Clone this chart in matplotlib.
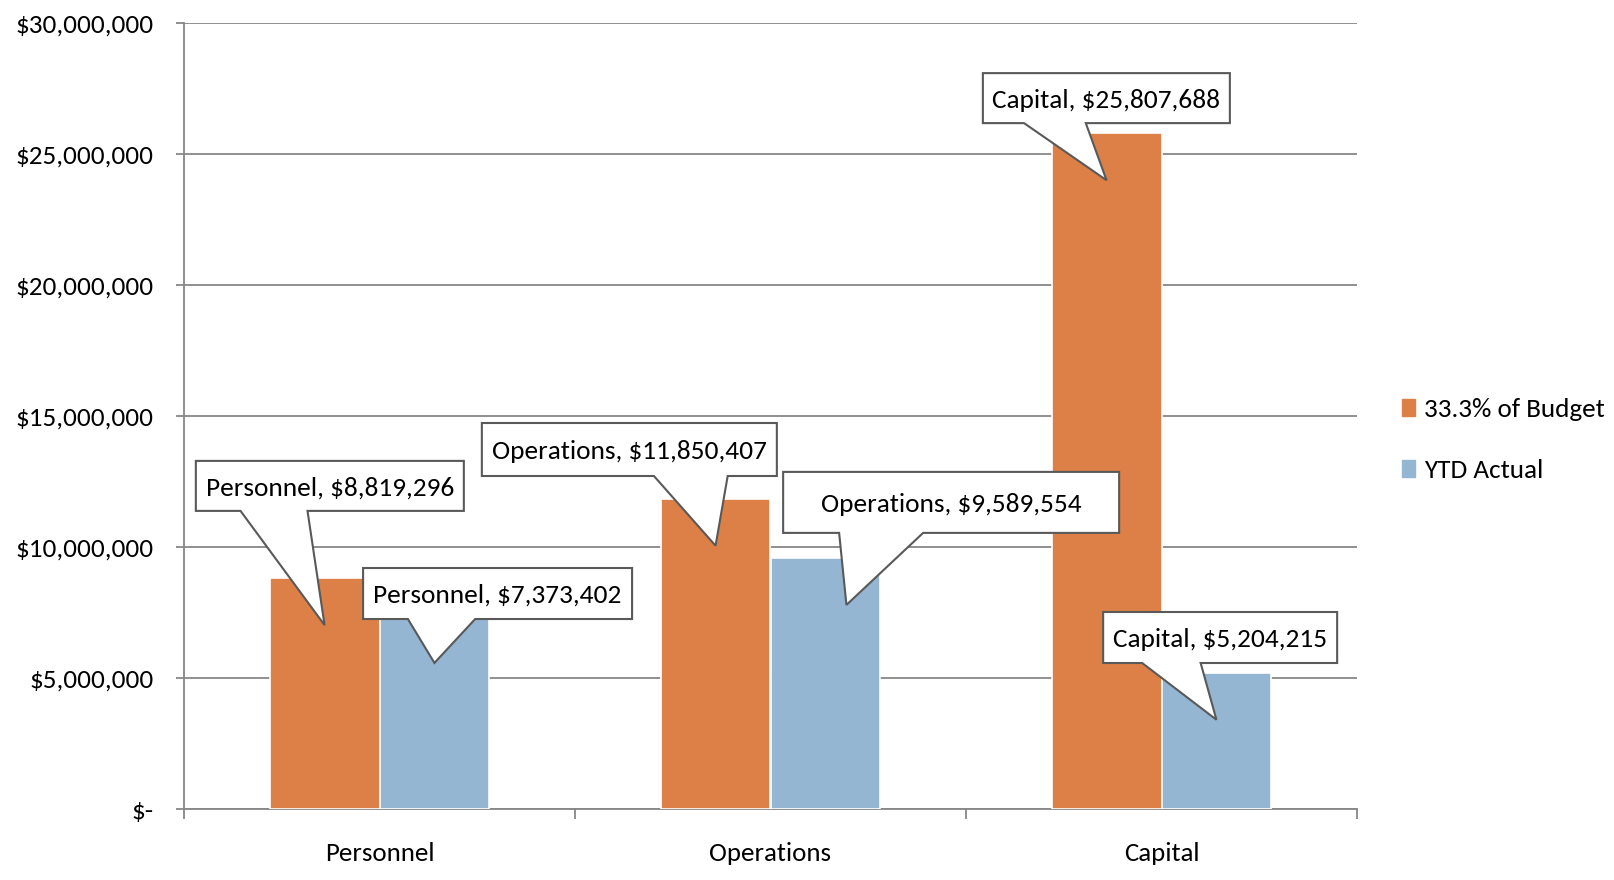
import matplotlib
matplotlib.use("Agg")
import matplotlib.pyplot as plt
import numpy as np
from matplotlib.patches import Polygon, Patch
from matplotlib.transforms import IdentityTransform

plt.rcParams['font.family'] = ['Carlito', 'Liberation Sans Narrow', 'Roboto Condensed', 'DejaVu Sans']

# ---- data ----
categories = ["Personnel", "Operations", "Capital"]
budget = [8819296, 11850407, 25807688]      # 33.3% of Budget
ytd_actual = [7373402, 9589554, 5204215]    # YTD Actual
series_names = ["33.3% of Budget", "YTD Actual"]
y_ticks = [0, 5000000, 10000000, 15000000, 20000000, 25000000, 30000000]

# callout layout: box centre (category units, dollars), box size (px), pointer x shift (px)
budget_callouts = [((-0.127, 12.34e6), (268, 50), 0),
                   ((0.639, 13.73e6), (295, 53), 0),
                   ((1.859, 27.15e6), (247, 50), 0)]
actual_callouts = [((0.302, 8.23e6), (269, 51), 0),
                   ((1.462, 11.71e6), (336, 61), 21),
                   ((2.150, 6.55e6), (234, 51), 0)]

ORANGE = "#DD8047"
BLUE = "#94B6D2"
GRID = "#878787"
EDGE = "#595959"

fig = plt.figure(figsize=(16.14, 8.8), dpi=100)
ax = fig.add_axes([184 / 1614, 71 / 880, (1357 - 184) / 1614, (809 - 23.5) / 880])

x = np.arange(len(categories))
width = 0.281
ax.bar(x - width / 2, budget, width, color=ORANGE, edgecolor="white", linewidth=1.2, zorder=3)
ax.bar(x + width / 2, ytd_actual, width, color=BLUE, edgecolor="white", linewidth=1.2, zorder=3)

ax.set_xlim(-0.5, 2.5)
ax.set_ylim(0, 30000000)
ax.set_yticks(y_ticks)
ax.set_yticklabels(["$-" if v == 0 else f"${v:,.0f}" for v in y_ticks], fontsize=19.5)
ax.yaxis.grid(True, color=GRID, linewidth=1.3, zorder=0)
ax.tick_params(axis="y", length=6, width=1.3, color=GRID, pad=16)

# category separators as major ticks, names on minor ticks
ax.set_xticks([-0.5, 0.5, 1.5, 2.5])
ax.set_xticklabels([])
ax.set_xticks(x, minor=True)
ax.set_xticklabels(categories, minor=True, fontsize=19.4)
ax.tick_params(axis="x", which="major", length=7, width=1.3, color=GRID)
ax.tick_params(axis="x", which="minor", length=0, pad=24)

for s in ["top", "right"]:
    ax.spines[s].set_visible(False)
for s in ["left", "bottom"]:
    ax.spines[s].set_color(GRID)
    ax.spines[s].set_linewidth(1.3)
ax.set_axisbelow(True)

# legend
handles = [Patch(color=ORANGE), Patch(color=BLUE)]
fig.legend(handles, series_names, loc="center left", bbox_to_anchor=(1378 / 1614, 0.5),
           frameon=False, fontsize=19.5, handlelength=0.45, handleheight=0.6,
           handletextpad=0.35, labelspacing=1.4)

fig.canvas.draw()


def callout(label, layout, bar_x, value):
    (cx, cy), (bw, bh), shift = layout
    ax.text(cx, cy, label, ha="center", va="center_baseline", fontsize=19.7, zorder=7)
    px, py = ax.transData.transform((cx, cy))
    x0, x1 = px - bw / 2, px + bw / 2
    y0, y1 = py - bh / 2, py + bh / 2
    tx, ty = ax.transData.transform((bar_x, value))
    tx += shift
    ty -= 47
    # wedge base sits on the left or right part of the bottom edge
    if tx <= px + bw * 0.1:
        b0, b1 = x0 + bw * 2 / 12, x0 + bw * 5 / 12
    else:
        b0, b1 = x0 + bw * 7 / 12, x0 + bw * 10 / 12
    verts = [(x0, y0), (b0, y0), (tx, ty), (b1, y0), (x1, y0), (x1, y1), (x0, y1)]
    poly = Polygon(verts, closed=True, facecolor="white", edgecolor=EDGE,
                   linewidth=1.5, transform=IdentityTransform(), zorder=6, clip_on=False)
    ax.add_patch(poly)


for i, cat in enumerate(categories):
    callout(f"{cat}, ${budget[i]:,.0f}", budget_callouts[i], x[i] - width / 2, budget[i])
    callout(f"{cat}, ${ytd_actual[i]:,.0f}", actual_callouts[i], x[i] + width / 2, ytd_actual[i])

fig.savefig("out.png", dpi=100)
